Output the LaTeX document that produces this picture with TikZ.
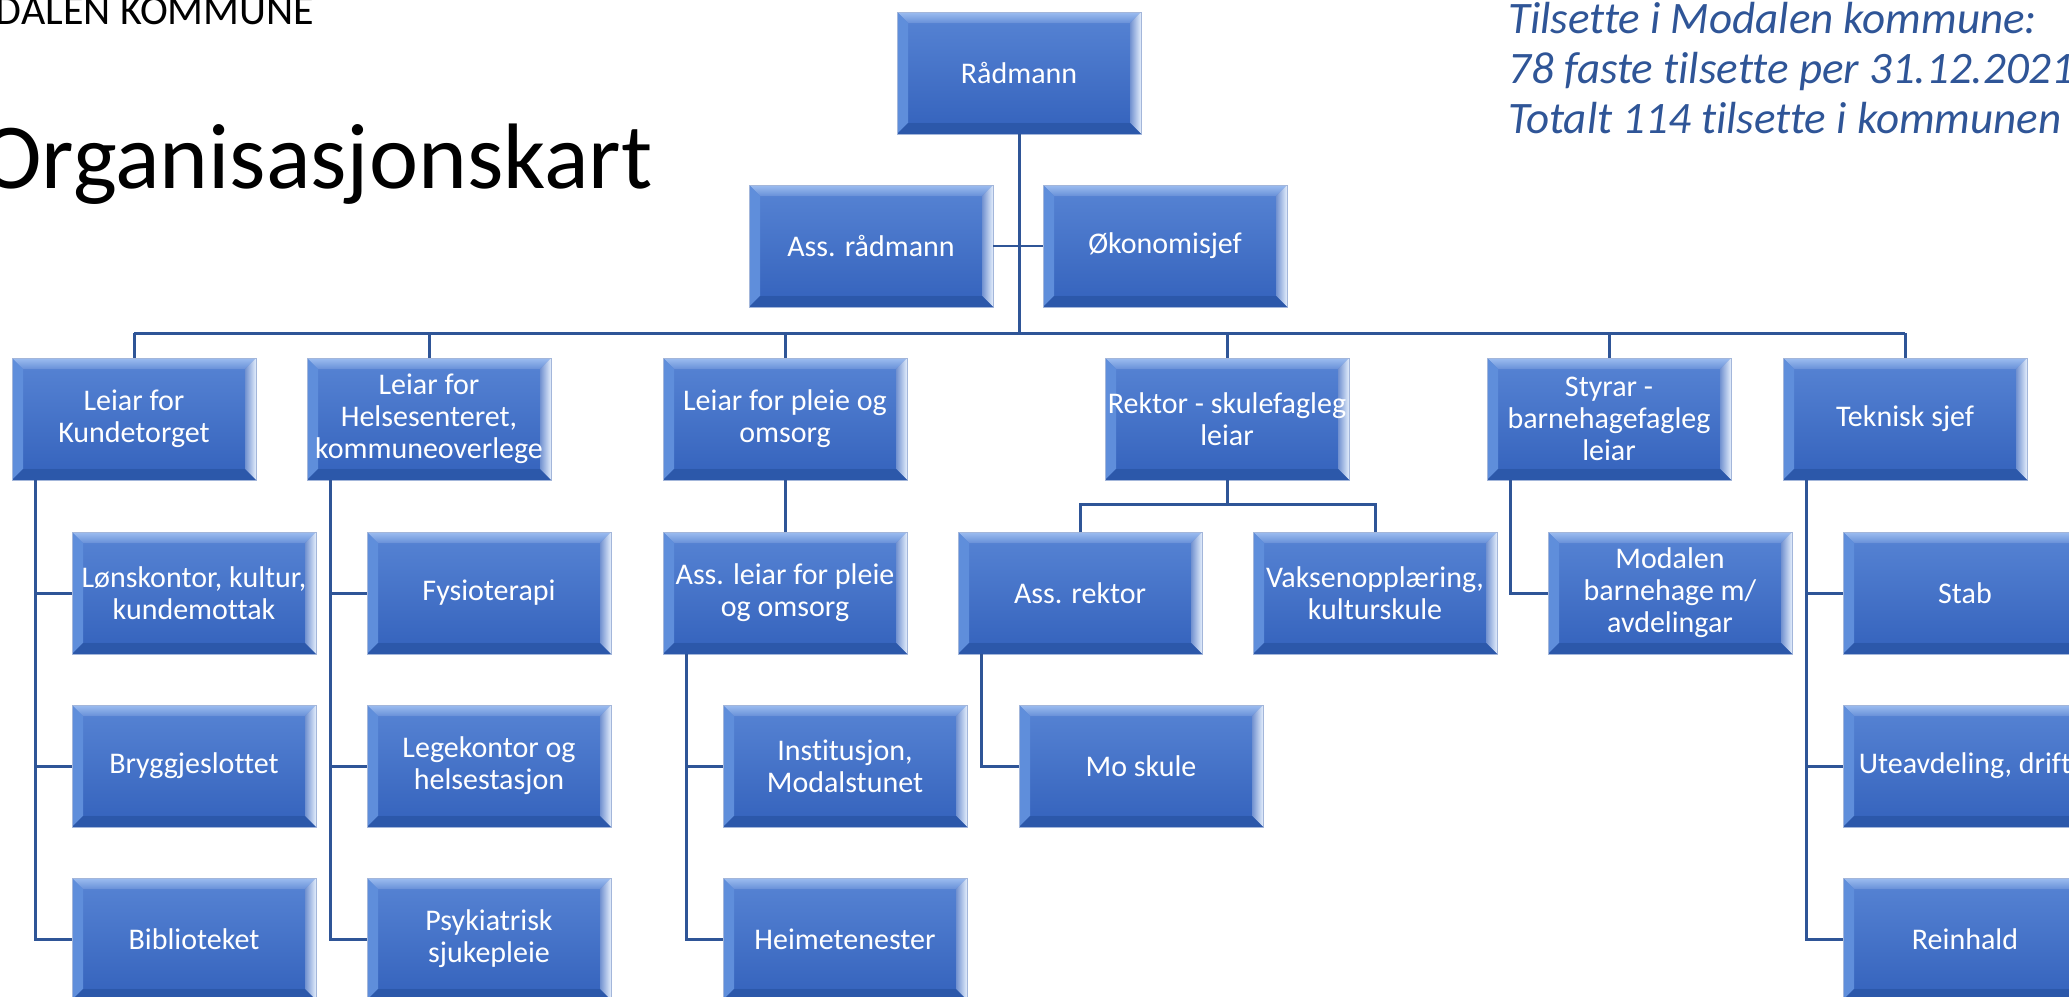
\documentclass[tikz,border=0pt]{standalone}
\usepackage{fontspec}
\setmainfont{Carlito}[Ligatures=NoCommon]
\usetikzlibrary{positioning}

\definecolor{boxhi}{HTML}{5784D4}
\definecolor{boxlo}{HTML}{3462BC}
\definecolor{bevtop}{HTML}{9DBDF0}
\definecolor{bevleft}{HTML}{5F8EDB}
\definecolor{bevright}{HTML}{E4EEFC}
\definecolor{bevbot}{HTML}{2C58AA}
\definecolor{boxrim}{HTML}{A3B6DA}
\definecolor{linkblue}{HTML}{2F5597}

\newcommand{\bev}{11pt}
\tikzset{
  orgbox/.style={draw=boxrim, line width=0.8pt, top color=boxhi, bottom color=boxlo,
    minimum width=244pt, minimum height=122pt, inner sep=2pt, outer sep=0pt,
    align=center, text=white, font=\fontsize{30}{32}\selectfont,
    path picture={
      \path (path picture bounding box.north west) coordinate (bvnw)
            (path picture bounding box.north east) coordinate (bvne)
            (path picture bounding box.south west) coordinate (bvsw)
            (path picture bounding box.south east) coordinate (bvse);
      \shade[top color=bevtop, bottom color=boxhi!90!white] (bvnw) -- (bvne)
        -- ([xshift=-\bev,yshift=-\bev]bvne) -- ([xshift=\bev,yshift=-\bev]bvnw) -- cycle;
      \fill[bevleft] (bvnw) -- ([xshift=\bev,yshift=-\bev]bvnw)
        -- ([xshift=\bev,yshift=\bev]bvsw) -- (bvsw) -- cycle;
      \shade[left color=boxlo!70!white, right color=bevright] (bvne) -- (bvse)
        -- ([xshift=-\bev,yshift=\bev]bvse) -- ([xshift=-\bev,yshift=-\bev]bvne) -- cycle;
      \fill[bevbot] (bvsw) -- (bvse) -- ([xshift=-\bev,yshift=\bev]bvse)
        -- ([xshift=\bev,yshift=\bev]bvsw) -- cycle;
    }},
  link/.style={draw=linkblue, line width=3pt},
  asslink/.style={draw=linkblue, line width=2pt},
  infotext/.style={anchor=base west, inner sep=0pt, text=linkblue,
    font=\fontsize{45}{50}\selectfont\itshape},
}

\begin{document}
\begin{tikzpicture}[x=1pt, y=-1pt]
  \useasboundingbox (0,0) rectangle (2069,996);

  % headings
  \node[anchor=base west, inner sep=0pt, font=\fontsize{42}{42}\selectfont] (kommune) at (-68,24) {MODALEN KOMMUNE};
  \node[anchor=base west, inner sep=0pt, font=\fontsize{93}{93}\selectfont] (title) at (-20,188) {Organisasjonskart};
  \node[infotext] (info1) at (1508,33) {Tilsette i Modalen kommune:};
  \node[infotext] (info2) at (1508,83) {78 faste tilsette per 31.12.2021};
  \node[infotext] (info3) at (1508,133) {Totalt 114 tilsette i kommunen};

  % top
  \node[orgbox] (radm) at (1019,73) {Rådmann};
  \node[orgbox] (assradm) at (871,246) {Ass. rådmann};
  \node[orgbox] (okon) at (1165,246) {Økonomisjef};

  % leiarar
  \node[orgbox] (kund) at (134,419) {Leiar for\\Kundetorget};
  \node[orgbox] (helse) at (429,419) {Leiar for\\Helsesenteret,\\kommuneoverlege};
  \node[orgbox] (pleie) at (785,419) {Leiar for pleie og\\omsorg};
  \node[orgbox] (rektor) at (1227,419) {Rektor - skulefagleg\\leiar};
  \node[orgbox] (styrar) at (1609,419) {Styrar -\\barnehagefagleg\\leiar};
  \node[orgbox] (teknisk) at (1905,419) {Teknisk sjef};

  % einingar
  \node[orgbox] (lons) at (194,593) {Lønskontor, kultur,\\kundemottak};
  \node[orgbox] (bryg) at (194,766) {Bryggjeslottet};
  \node[orgbox] (bibl) at (194,939) {Biblioteket};
  \node[orgbox] (fysio) at (489,593) {Fysioterapi};
  \node[orgbox] (lege) at (489,766) {Legekontor og\\helsestasjon};
  \node[orgbox] (psyk) at (489,939) {Psykiatrisk\\sjukepleie};
  \node[orgbox] (asspleie) at (785,593) {Ass. leiar for pleie\\og omsorg};
  \node[orgbox] (inst) at (845,766) {Institusjon,\\Modalstunet};
  \node[orgbox] (heime) at (845,939) {Heimetenester};
  \node[orgbox] (assrek) at (1080,593) {Ass. rektor};
  \node[orgbox] (vaksen) at (1375,593) {Vaksenopplæring,\\kulturskule};
  \node[orgbox] (moskule) at (1141,766) {Mo skule};
  \node[orgbox] (bhg) at (1670,593) {Modalen\\barnehage m/\\avdelingar};
  \node[orgbox] (stab) at (1965,593) {Stab};
  \node[orgbox] (ute) at (1965,766) {Uteavdeling, drift};
  \node[orgbox] (reinh) at (1965,939) {Reinhald};

  % linjer
  \coordinate (bar) at (1019,333);
  \coordinate (rbar) at ([yshift=-24pt]rektor.south);
  \draw[link] (radm.south) -- (bar);
  \draw[asslink] (assradm.east) -- (okon.west);
  \draw[link] (bar -| kund.north) -- (bar -| teknisk.north);
  \foreach \n in {kund,helse,pleie,rektor,styrar,teknisk}
    \draw[link] (bar -| \n.north) -- (\n.north);
  \draw[link] (pleie.south) -- (asspleie.north);
  \draw[link] (rektor.south) -- (rbar);
  \draw[link] (assrek.north) |- (rbar) -| (vaksen.north);
  \foreach \p/\c in {kund/lons, kund/bryg, kund/bibl, helse/fysio, helse/lege, helse/psyk,
                     asspleie/inst, asspleie/heime, assrek/moskule, styrar/bhg,
                     teknisk/stab, teknisk/ute, teknisk/reinh}
    \draw[link] ([xshift=23pt]\p.south west) |- (\c.west);
\end{tikzpicture}
\end{document}
